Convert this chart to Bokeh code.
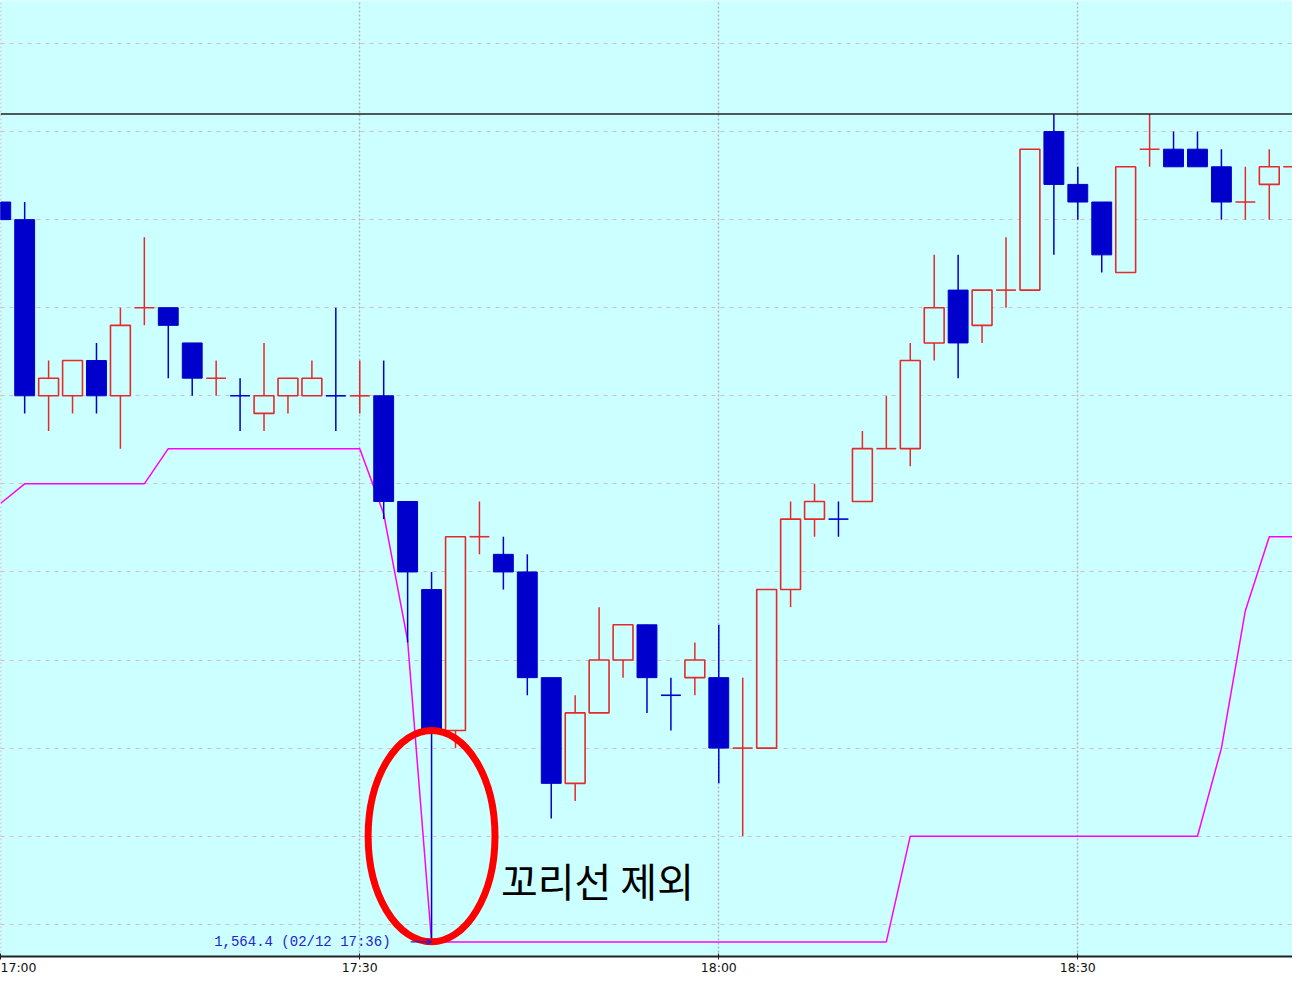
from bokeh.plotting import figure
from bokeh.models import Range1d, FixedTicker, Span, Arrow, OpenHead, ColumnDataSource
from bokeh.core.properties import value
from bokeh.embed import file_html
from bokeh.resources import INLINE

# ---------------- data (2-minute candles, 02/12) ----------------
times = ["17:00", "17:02", "17:04", "17:06", "17:08", "17:10", "17:12", "17:14",
         "17:16", "17:18", "17:20", "17:22", "17:24", "17:26", "17:28", "17:30",
         "17:32", "17:34", "17:36", "17:38", "17:40", "17:42", "17:44", "17:46",
         "17:48", "17:50", "17:52", "17:54", "17:56", "17:58", "18:00", "18:02",
         "18:04", "18:06", "18:08", "18:10", "18:12", "18:14", "18:16", "18:18",
         "18:20", "18:22", "18:24", "18:26", "18:28", "18:30", "18:32", "18:34",
         "18:36", "18:38", "18:40", "18:42", "18:44", "18:46", "18:48"]

opens = [1568.6, 1568.5, 1567.5, 1567.5, 1567.7, 1567.5, 1568.0, 1568.0,
         1567.8, 1567.6, 1567.5, 1567.4, 1567.5, 1567.5, 1567.5, 1567.5,
         1567.5, 1566.9, 1566.4, 1565.6, 1566.7, 1566.6, 1566.5, 1565.9,
         1565.3, 1565.7, 1566.0, 1566.2, 1565.8, 1565.9, 1565.9, 1565.5,
         1565.5, 1566.4, 1566.8, 1566.8, 1566.9, 1567.2, 1567.2, 1567.8,
         1568.1, 1567.9, 1568.1, 1568.1, 1569.0, 1568.7, 1568.6, 1568.2,
         1568.9, 1568.9, 1568.9, 1568.8, 1568.6, 1568.7, 1568.8]

highs = [1568.6, 1568.6, 1567.7, 1567.7, 1567.8, 1568.0, 1568.4, 1568.0,
         1567.8, 1567.7, 1567.6, 1567.8, 1567.6, 1567.7, 1568.0, 1567.7,
         1567.7, 1566.9, 1566.5, 1566.7, 1566.9, 1566.7, 1566.6, 1565.9,
         1565.8, 1566.3, 1566.2, 1566.2, 1565.9, 1566.1, 1566.2, 1565.9,
         1566.4, 1566.9, 1567.0, 1566.9, 1567.3, 1567.5, 1567.8, 1568.3,
         1568.3, 1568.1, 1568.4, 1568.9, 1569.1, 1568.8, 1568.6, 1568.8,
         1569.1, 1569.0, 1569.0, 1568.9, 1568.8, 1568.9, 1568.9]

lows = [1568.5, 1567.4, 1567.3, 1567.4, 1567.4, 1567.2, 1567.9, 1567.6,
        1567.5, 1567.5, 1567.3, 1567.3, 1567.4, 1567.5, 1567.3, 1567.4,
        1566.8, 1566.1, 1564.4, 1565.5, 1566.6, 1566.4, 1565.8, 1565.1,
        1565.2, 1565.7, 1565.9, 1565.7, 1565.6, 1565.8, 1565.3, 1565.0,
        1565.5, 1566.3, 1566.7, 1566.7, 1566.9, 1567.2, 1567.1, 1567.7,
        1567.6, 1567.8, 1568.0, 1568.1, 1568.3, 1568.5, 1568.2, 1568.2,
        1568.8, 1568.8, 1568.8, 1568.5, 1568.5, 1568.5, 1568.7]

closes = [1568.5, 1567.5, 1567.6, 1567.7, 1567.5, 1567.9, 1568.0, 1567.9,
          1567.6, 1567.6, 1567.5, 1567.5, 1567.6, 1567.6, 1567.5, 1567.5,
          1566.9, 1566.5, 1565.6, 1566.7, 1566.7, 1566.5, 1565.9, 1565.3,
          1565.7, 1566.0, 1566.2, 1565.9, 1565.8, 1566.0, 1565.5, 1565.5,
          1566.4, 1566.8, 1566.9, 1566.8, 1567.2, 1567.2, 1567.7, 1568.0,
          1567.8, 1568.1, 1568.1, 1568.9, 1568.7, 1568.6, 1568.3, 1568.8,
          1568.9, 1568.8, 1568.8, 1568.6, 1568.6, 1568.8, 1568.8]

# magenta stop line
stop_line = [1566.89, 1567.0, 1567.0, 1567.0, 1567.0, 1567.0, 1567.0, 1567.2,
             1567.2, 1567.2, 1567.2, 1567.2, 1567.2, 1567.2, 1567.2, 1567.2,
             1566.83, 1566.11, 1564.4, 1564.4, 1564.4, 1564.4, 1564.4, 1564.4,
             1564.4, 1564.4, 1564.4, 1564.4, 1564.4, 1564.4, 1564.4, 1564.4,
             1564.4, 1564.4, 1564.4, 1564.4, 1564.4, 1564.4, 1565.0, 1565.0,
             1565.0, 1565.0, 1565.0, 1565.0, 1565.0, 1565.0, 1565.0, 1565.0,
             1565.0, 1565.0, 1565.0, 1565.5, 1566.28, 1566.7, 1566.7]

x_tick_labels = ["17:00", "17:30", "18:00", "18:30"]
price_grid = [1564.5, 1565.0, 1565.5, 1566.0, 1566.5, 1567.0,
              1567.5, 1568.0, 1568.5, 1569.0, 1569.5]
date_label = "02/12"
note_text = "꼬리선 제외"

# ---------------- derived ----------------
def to_min(s):
    h, m = s.split(":")
    return (int(h) - 17) * 60 + int(m)

t = [to_min(s) for s in times]

UP = "#E42A2A"
DOWN = "#0000CC"
BG = "#CCFFFF"
HALF = 0.83  # half body width in minutes

up_flags = []
for i, (o, c) in enumerate(zip(opens, closes)):
    if c > o:
        up_flags.append(True)
    elif c < o:
        up_flags.append(False)
    else:
        up_flags.append(i == 0 or c >= closes[i - 1])

colors = [UP if u else DOWN for u in up_flags]

p = figure(width=1292, height=977, output_backend="svg", toolbar_location=None,
           x_range=Range1d(-0.02, 107.94), y_range=Range1d(1564.317, 1569.744),
           min_border_left=0, min_border_right=0, min_border_top=0, min_border_bottom=0)
p.background_fill_color = BG
p.border_fill_color = "white"
p.outline_line_color = None

# grids
p.yaxis.visible = False
p.ygrid.ticker = FixedTicker(ticks=price_grid)
p.ygrid.grid_line_color = "#CBC3C3"
p.ygrid.grid_line_dash = "4 5"
p.ygrid.grid_line_width = 1.2

tick_pos = [to_min(s) for s in x_tick_labels]
p.xaxis.ticker = FixedTicker(ticks=tick_pos)
p.xaxis.major_label_overrides = {tp: lab for tp, lab in zip(tick_pos, x_tick_labels)}
p.xgrid.ticker = FixedTicker(ticks=tick_pos)
p.xgrid.grid_line_color = "#B4B4B4"
p.xgrid.grid_line_dash = "2 2"
p.xgrid.grid_line_width = 1.5

p.xaxis.axis_line_color = "#222222"
p.xaxis.axis_line_width = 2
p.xaxis.major_tick_line_color = "#222222"
p.xaxis.major_tick_in = 3
p.xaxis.major_tick_out = 3
p.xaxis.minor_tick_line_color = None
p.xaxis.major_label_standoff = 0
p.xaxis.major_label_text_font = "DejaVu Sans"
p.xaxis.major_label_text_font_size = "12.5px"
p.xaxis.major_label_text_color = "#111111"

# black top border line at the highest high
p.add_layout(Span(location=max(highs), dimension="width", line_color="#222222", line_width=1.5))

# magenta line
p.line(t, stop_line, line_color="#FF00FF", line_width=1.5)

# wicks
p.segment(x0=t, y0=highs, x1=t, y1=lows, line_color=colors, line_width=1.5)

# bodies
up_src = dict(x=[], top=[], bottom=[])
dn_src = dict(x=[], top=[], bottom=[])
dj_src = dict(x0=[], x1=[], y=[], c=[])
for ti, o, c, col, u in zip(t, opens, closes, colors, up_flags):
    if o == c:
        dj_src["x0"].append(ti - HALF)
        dj_src["x1"].append(ti + HALF)
        dj_src["y"].append(c)
        dj_src["c"].append(col)
    elif c > o:
        up_src["x"].append(ti); up_src["top"].append(c); up_src["bottom"].append(o)
    else:
        dn_src["x"].append(ti); dn_src["top"].append(o); dn_src["bottom"].append(c)

p.vbar(x="x", top="top", bottom="bottom", width=2 * HALF, source=ColumnDataSource(dn_src),
       fill_color=DOWN, line_color=DOWN, line_width=1)
p.vbar(x="x", top="top", bottom="bottom", width=2 * HALF, source=ColumnDataSource(up_src),
       fill_color=BG, line_color=UP, line_width=1.6)
p.segment(x0="x0", y0="y", x1="x1", y1="y", line_color="c", line_width=1.6,
          source=ColumnDataSource(dj_src))

# lowest point annotation
i_low = lows.index(min(lows))
t_low, low = t[i_low], lows[i_low]
body_bottom = min(opens[i_low], closes[i_low])

p.text(x=[t_low], y=[low], text=[f"{low:,.1f} ({date_label} {times[i_low]})"],
       x_offset=-41, text_align="right", text_baseline="middle",
       text_font=value("Liberation Mono"), text_font_size="14px", text_color="#2323D2")
p.add_layout(Arrow(end=OpenHead(size=5, line_color="#2323D2", line_width=1.2),
                   x_start=t_low - 1.75, y_start=low, x_end=t_low, y_end=low,
                   line_color="#2323D2", line_width=1.2))

# red ellipse round the excluded lower shadow
ell_w = 10.6
p.ellipse(x=[t_low], y=[(body_bottom + low) / 2], width=ell_w, height=body_bottom - low,
          fill_color=None, line_color="#FF0000", line_width=7)

p.text(x=[t_low + ell_w / 2 + 0.5], y=[(body_bottom + low) / 2 - 0.25], text=[note_text],
       text_align="left", text_baseline="middle",
       text_font=value("Noto Sans CJK KR"), text_font_size="40px", text_color="black")

open("out.html", "w").write(file_html(p, INLINE))
